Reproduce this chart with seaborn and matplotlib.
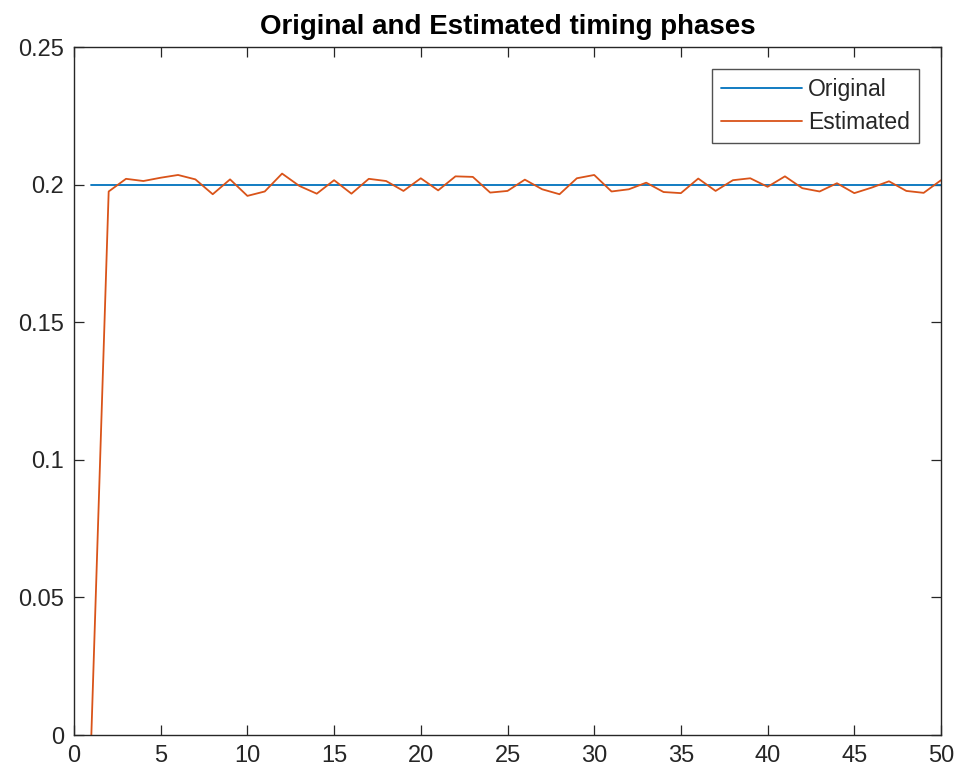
import numpy as np
import pandas as pd
import matplotlib
matplotlib.use("Agg")
import matplotlib.pyplot as plt
import seaborn as sns

x_vals = list(range(1, 51))
original = [0.2] * 50
estimated = [0.0, 0.1975, 0.2021, 0.2013, 0.2025, 0.2035, 0.2019, 0.1965, 0.2019, 0.1959,
             0.1975, 0.2040, 0.1995, 0.1967, 0.2016, 0.1967, 0.2021, 0.2013, 0.1977, 0.2023,
             0.1979, 0.2030, 0.2028, 0.1971, 0.1977, 0.2018, 0.1983, 0.1965, 0.2023, 0.2035,
             0.1975, 0.1983, 0.2007, 0.1973, 0.1969, 0.2022, 0.1977, 0.2016, 0.2023, 0.1992,
             0.2030, 0.1987, 0.1975, 0.2005, 0.1969, 0.1989, 0.2012, 0.1977, 0.1970, 0.2016]
series_names = ["Original", "Estimated"]
colors = ["#0072BD", "#D95319"]
x_ticks = [0, 5, 10, 15, 20, 25, 30, 35, 40, 45, 50]
y_ticks = [0, 0.05, 0.1, 0.15, 0.2, 0.25]
y_tick_labels = ["0", "0.05", "0.1", "0.15", "0.2", "0.25"]

df = pd.DataFrame({
    "x": x_vals * 2,
    "y": original + estimated,
    "series": [series_names[0]] * 50 + [series_names[1]] * 50,
})

sns.set_style("white")
plt.rcParams["font.family"] = ["Liberation Sans", "DejaVu Sans"]

fig = plt.figure(figsize=(9.61, 7.75), dpi=100)
ax = fig.add_axes([74 / 961, 40 / 775, 867 / 961, 688 / 775])
sns.lineplot(data=df, x="x", y="y", hue="series", palette=colors,
             linewidth=1.3, ax=ax, legend=True)

ax.set_xlim(0, 50)
ax.set_ylim(0, 0.25)
ax.set_xticks(x_ticks)
ax.set_xticklabels([str(t) for t in x_ticks])
ax.set_yticks(y_ticks)
ax.set_yticklabels(y_tick_labels)
ax.set_xlabel("")
ax.set_ylabel("")
ax.tick_params(direction="in", length=7, width=0.9, top=True, right=True,
               bottom=True, left=True,
               labelsize=17, colors="#262626", labelcolor="#262626", pad=7)
for s in ax.spines.values():
    s.set_visible(True)
    s.set_color("#262626")
    s.set_linewidth(1.0)
ax.set_title("Original and Estimated timing phases", fontsize=20,
             fontweight="bold", color="#000000", pad=9)

leg = ax.legend(loc="upper right", fontsize=16.5, frameon=True, fancybox=False,
                edgecolor="#262626", borderaxespad=0.95, handlelength=3.55,
                handletextpad=0.25, borderpad=0.4, labelspacing=0.42)
leg.get_frame().set_linewidth(1.0)

fig.savefig("out.png", dpi=100)
